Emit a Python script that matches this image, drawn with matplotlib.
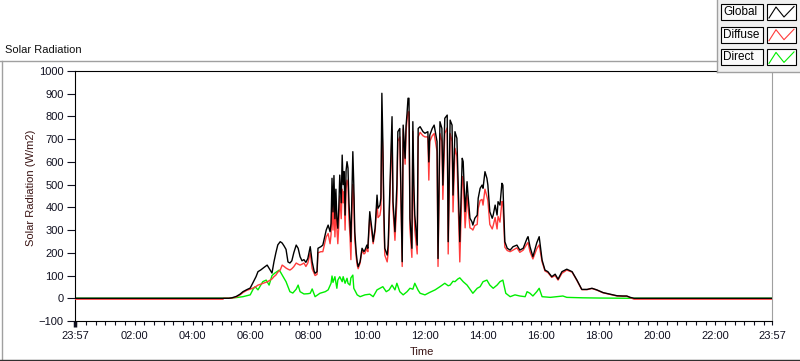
import numpy as np
import matplotlib
matplotlib.use('Agg')
import matplotlib.pyplot as plt
from matplotlib.lines import Line2D
from matplotlib.patches import Rectangle
from matplotlib.ticker import MultipleLocator

plt.rcParams['font.family'] = ['Liberation Sans', 'DejaVu Sans']

# Solar radiation log, minutes since midnight (23:57 of the previous day = -3)
global_min = [-3, 315, 321, 330, 338, 344, 352, 359, 365, 371, 375, 381, 387, 394, 400, 404, 408, 412, 416,
              421, 425, 429, 433, 437, 441, 445, 449, 454, 458, 462, 466, 470, 474, 478, 483, 487, 491, 493,
              497, 499, 505, 509, 516, 520, 524, 526, 528, 530, 532, 534, 536, 538, 540, 542, 544, 547, 549,
              551, 553, 555, 557, 559, 561, 563, 565, 567, 569, 571, 573, 575, 578, 580, 582, 586, 590, 594,
              596, 600, 602, 606, 611, 613, 617, 621, 623, 627, 629, 631, 633, 635, 637, 642, 644, 648, 650,
              652, 654, 658, 662, 664, 668, 671, 673, 675, 679, 681, 683, 685, 687, 689, 693, 695, 697, 699,
              704, 706, 710, 716, 720, 726, 728, 730, 735, 739, 745, 747, 751, 755, 757, 761, 766, 768, 772,
              776, 778, 782, 786, 788, 792, 797, 799, 803, 807, 809, 813, 817, 819, 823, 828, 830, 834, 838,
              840, 844, 848, 850, 854, 859, 861, 865, 869, 871, 875, 879, 881, 885, 890, 896, 902, 910, 916,
              923, 931, 933, 937, 943, 951, 956, 962, 968, 974, 982, 989, 995, 1003, 1013, 1024, 1034, 1044,
              1055, 1065, 1075, 1088, 1102, 1117, 1129, 1137, 1144, 1152, 1437]
global_wm2 = [0, 0, 2, 8, 18, 29, 38, 45, 70, 95, 117, 125, 135, 146, 125, 111, 160, 200, 235,
              249, 243, 230, 215, 160, 155, 165, 200, 234, 220, 183, 165, 170, 158, 175, 227, 160, 120, 110,
              117, 220, 227, 234, 300, 322, 293, 330, 528, 380, 540, 350, 480, 352, 308, 400, 542, 420, 630,
              500, 557, 366, 560, 601, 573, 420, 337, 249, 450, 645, 498, 293, 200, 161, 139, 161, 220, 205,
              212, 234, 220, 381, 293, 249, 308, 454, 396, 410, 440, 902, 689, 400, 220, 190, 234, 513, 650,
              799, 425, 293, 498, 733, 747, 400, 161, 762, 616, 760, 814, 880, 880, 352, 220, 777, 500, 366,
              234, 747, 755, 733, 726, 733, 600, 718, 747, 762, 689, 175, 777, 747, 498, 792, 806, 249, 784,
              762, 454, 733, 704, 557, 249, 616, 601, 381, 513, 454, 352, 337, 322, 352, 366, 440, 484, 498,
              484, 557, 528, 498, 381, 352, 366, 410, 366, 425, 410, 506, 498, 249, 220, 212, 227, 234, 212,
              220, 264, 271, 227, 183, 244, 271, 168, 124, 117, 95, 106, 84, 117, 128, 117, 80, 39,
              39, 44, 37, 25, 18, 11, 10, 10, 4, 0, 0]

diffuse_min = [-3, 303, 304] + global_min[1:-1] + [1437]
diffuse_wm2 = [-4, -4, 0, 0, 1, 5, 15, 25, 35, 40, 45, 52, 58, 62, 67, 72, 80, 85, 95, 102, 115,
               124, 146, 140, 133, 128, 124, 130, 139, 155, 150, 146, 150, 155, 140, 155, 200, 130, 110, 100,
               105, 200, 205, 205, 270, 285, 240, 280, 420, 300, 440, 270, 400, 310, 240, 320, 450, 350, 480,
               420, 470, 300, 480, 520, 500, 350, 280, 170, 360, 500, 440, 260, 180, 146, 130, 155, 210, 195,
               198, 220, 205, 360, 275, 240, 295, 420, 355, 365, 395, 760, 640, 360, 190, 160, 200, 470, 600,
               740, 390, 255, 430, 690, 710, 370, 140, 745, 590, 735, 785, 820, 820, 305, 180, 735, 440, 300,
               195, 710, 730, 715, 710, 710, 520, 690, 715, 725, 645, 140, 725, 690, 435, 725, 750, 195, 725,
               690, 380, 660, 625, 470, 160, 535, 525, 310, 455, 400, 310, 305, 300, 320, 325, 395, 430, 435,
               410, 480, 448, 430, 325, 305, 320, 355, 305, 360, 335, 426, 420, 225, 210, 205, 212, 222, 202,
               212, 240, 245, 205, 173, 218, 235, 160, 120, 113, 92, 100, 80, 110, 124, 115, 78, 38,
               38, 43, 36, 24, 17, 10, 9, 9, 3, -4, -4]

direct_min = [-3, 315, 330, 344, 359, 365, 369, 375, 385, 392, 398, 404, 410, 419, 423, 427, 433, 441, 447,
              454, 458, 462, 470, 478, 483, 487, 493, 503, 514, 520, 526, 528, 530, 534, 538, 540, 544, 549,
              551, 555, 559, 561, 565, 567, 571, 573, 580, 586, 596, 606, 613, 621, 627, 633, 640, 646, 652,
              658, 662, 668, 675, 683, 689, 695, 699, 706, 710, 720, 730, 741, 751, 761, 768, 772, 778, 782,
              788, 792, 799, 807, 813, 819, 828, 834, 840, 848, 854, 861, 869, 875, 881, 883, 887, 896, 906,
              916, 927, 931, 937, 943, 951, 956, 962, 979, 1005, 1013, 1046, 1082, 1144, 1437]
direct_wm2 = [0, 0, 3, 7, 15, 40, 51, 37, 73, 80, 58, 100, 111, 124, 110, 95, 73, 29, 23,
              40, 58, 29, 19, 20, 22, 41, 7, 22, 29, 37, 66, 98, 70, 95, 44, 80, 95, 73,
              95, 66, 88, 66, 58, 90, 102, 44, 15, 7, 15, 18, 7, 37, 44, 51, 29, 37, 58,
              37, 66, 29, 15, 29, 44, 40, 66, 35, 22, 15, 26, 37, 51, 66, 55, 58, 75, 73,
              85, 90, 73, 58, 40, 22, 44, 51, 73, 80, 58, 44, 58, 73, 80, 60, 22, 7, 15,
              10, 7, 29, 22, 10, 29, 44, 7, 4, 10, 4, 2, 1, 0, 0]

tick_pos = [-3, 120, 240, 360, 480, 600, 720, 840, 960, 1080, 1200, 1320, 1437]
tick_labels = ['23:57', '02:00', '04:00', '06:00', '08:00', '10:00', '12:00',
               '14:00', '16:00', '18:00', '20:00', '22:00', '23:57']

series = [('Global', '#000000'), ('Diffuse', '#ff3b3b'), ('Direct', '#00ee00')]

W, H = 800, 361
def fx(x): return x / W
def fy(y): return 1 - y / H

fig = plt.figure(figsize=(W / 100, H / 100), dpi=100)
fig.patch.set_facecolor('white')

# outer frame of the graph
frame = dict(transform=fig.transFigure, color='#a0a0a0', lw=1)
fig.add_artist(Line2D([fx(0), fx(717)], [fy(61), fy(61)], **frame))
fig.add_artist(Line2D([fx(1.5), fx(1.5)], [fy(61), fy(360)], **frame))
fig.add_artist(Line2D([fx(0), fx(800)], [fy(359.5), fy(359.5)], transform=fig.transFigure, color='#303030', lw=1))
fig.text(fx(5), fy(50), 'Solar Radiation', fontsize=8, va='center', ha='left', color='#101010')

ax = fig.add_axes([fx(75), fy(321), 697 / W, 250 / H])
ax.plot(direct_min, direct_wm2, color=series[2][1], lw=1.0, zorder=2)
ax.plot(diffuse_min, diffuse_wm2, color=series[1][1], lw=1.0, zorder=3)
ax.plot(global_min, global_wm2, color=series[0][1], lw=1.0, zorder=4)

ax.set_xlim(-3, 1437)
ax.set_ylim(-100, 1000)
ax.set_yticks(np.arange(-100, 1001, 100))
ax.set_xticks(tick_pos)
ax.set_xticklabels(tick_labels)
ax.xaxis.set_minor_locator(MultipleLocator(20))
ax.tick_params(axis='y', direction='out', length=6, width=0.8, labelsize=8, colors='#101020', pad=2)
ax.tick_params(axis='x', which='both', direction='out', length=3, width=0.8, labelsize=8,
               colors='#101020', pad=4)
ax.xaxis.get_major_ticks()[0].tick1line.set_markeredgewidth(2.5)
ax.xaxis.get_major_ticks()[0].tick1line.set_markersize(4)
for side in ['left', 'top', 'bottom']:
    ax.spines[side].set_color('#000000')
    ax.spines[side].set_linewidth(0.8)
ax.spines['right'].set_color('#a0a0a0')
ax.spines['right'].set_linewidth(0.8)

fig.text(fx(31), fy(188), 'Solar Radiation (W/m2)', rotation=90, fontsize=8,
         ha='center', va='center', color='#3a1414')
fig.text(fx(422), fy(352), 'Time', fontsize=8, ha='center', va='center', color='#3a1414')

# plot legend panel in the top right corner
fig.add_artist(Rectangle((fx(717), fy(71.5)), 83 / W, 71.5 / H, transform=fig.transFigure,
                         facecolor='#f0f0f0', edgecolor='none'))
fig.add_artist(Line2D([fx(717), fx(717)], [fy(0), fy(71.5)], **frame))
fig.add_artist(Line2D([fx(717), fx(800)], [fy(71.5), fy(71.5)], **frame))
for i, (name, col) in enumerate(series):
    top = 4 + i * 22.7
    fig.add_artist(Rectangle((fx(721), fy(top + 16)), 42 / W, 16 / H, transform=fig.transFigure,
                             facecolor='#fafafa', edgecolor='#000000', lw=0.8))
    fig.add_artist(Rectangle((fx(767), fy(top + 16)), 29 / W, 16 / H, transform=fig.transFigure,
                             facecolor='white', edgecolor='#000000', lw=0.8))
    fig.text(fx(723), fy(top + 8), name, fontsize=8.5, ha='left', va='center', color='#000000')
    fig.add_artist(Line2D([fx(769), fx(776), fx(784), fx(794)],
                          [fy(top + 14), fy(top + 3), fy(top + 13), fy(top + 2.5)],
                          transform=fig.transFigure, color=col, lw=0.8))

fig.savefig('out.png', dpi=100)
